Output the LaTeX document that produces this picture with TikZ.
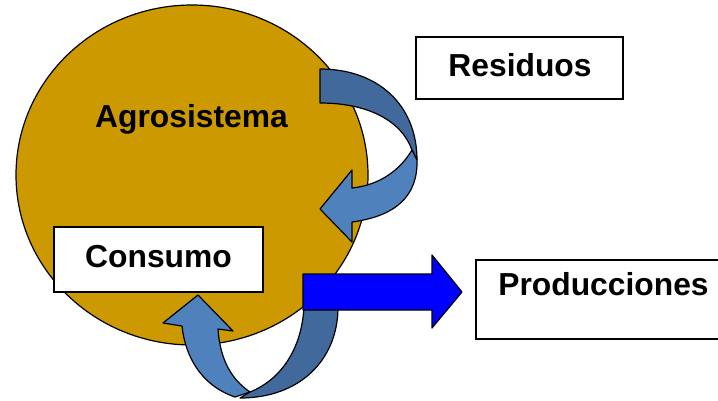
\documentclass[tikz,border=0pt]{standalone}
\usepackage{fontspec}
\setmainfont{Liberation Sans}
\definecolor{gold}{RGB}{204,153,0}
\definecolor{darkband}{RGB}{65,105,155}
\definecolor{lightband}{RGB}{79,129,189}
\definecolor{pureblue}{RGB}{0,0,255}
\begin{document}
\begin{tikzpicture}[x=1pt,y=-1pt,
  lbl/.style={font=\fontsize{31.8}{36}\selectfont\bfseries, anchor=base, inner sep=0pt},
  box/.style={draw=black, line width=1.5pt, fill=white},
  band/.style={draw=black, line width=1.2pt, line join=round}]
\useasboundingbox (0,0) rectangle (718,400);
% circle
\filldraw[fill=gold, draw=black, line width=1.2pt] (192,175) ellipse [x radius=176, y radius=170];
% boxes
\filldraw[box] (54,227) rectangle (263,292);
\filldraw[box] (416,37) rectangle (623,99);
\filldraw[box] (476,260) rectangle (719,339);
% top-right curved arrow (dark back band)
\filldraw[band, fill=darkband] (320,69) .. controls (378,69) and (417,105) .. (417,160)
  -- (412,150) .. controls (402,122) and (370,103) .. (320,103) -- cycle;
% top-right curved arrow (light front band with head)
\filldraw[band, fill=lightband] (412,150) .. controls (400,170) and (380,185) .. (352,188)
  -- (352,170) -- (320,209) -- (352,242) -- (352,222)
  .. controls (397,216) and (418,195) .. (417,160) -- cycle;
% bottom curved arrow (dark back band)
\filldraw[band, fill=darkband] (304,306) -- (338,309)
  .. controls (337,360) and (300,398) .. (240,398)
  -- (250,392) .. controls (280,380) and (302,350) .. (304,306) -- cycle;
% blue arrow
\filldraw[band, fill=pureblue] (303,274) -- (432,274) -- (432,255) -- (462,292)
  -- (432,328) -- (432,310) -- (303,310) -- cycle;
% bottom curved arrow (light front band with head)
\filldraw[band, fill=lightband] (250,392) .. controls (232,380) and (220,360) .. (218,329)
  -- (233,331) -- (198,295) -- (163,323) -- (182,326)
  .. controls (185,355) and (200,385) .. (235,397) -- cycle;
% texts
\node[lbl] (agro) at (191.5,127) {Agrosistema};
\node[lbl] (res) at (520,76) {Residuos};
\node[lbl] (cons) at (158.5,267) {Consumo};
\node[lbl] (prod) at (603.5,295) {Producciones};
\end{tikzpicture}
\end{document}
